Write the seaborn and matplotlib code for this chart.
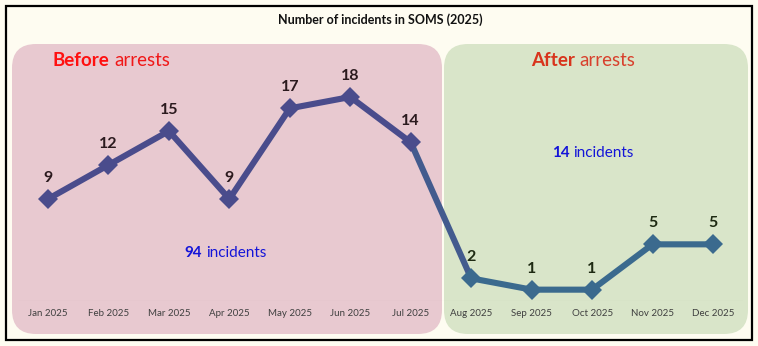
import matplotlib
matplotlib.use("Agg")
import matplotlib.pyplot as plt
import seaborn as sns
import pandas as pd
from matplotlib.patches import FancyBboxPatch, Rectangle

months = ["Jan 2025", "Feb 2025", "Mar 2025", "Apr 2025", "May 2025", "Jun 2025",
          "Jul 2025", "Aug 2025", "Sep 2025", "Oct 2025", "Nov 2025", "Dec 2025"]
incidents = [9, 12, 15, 9, 17, 18, 14, 2, 1, 1, 5, 5]
before_total = 94
after_total = 14
title = "Number of incidents in SOMS (2025)"

sns.set_theme(style="white")
plt.rcParams["font.family"] = ["Lato", "DejaVu Sans"]

W, H = 758, 346
fig = plt.figure(figsize=(W / 100, H / 100), dpi=100)
fig.patch.set_facecolor("#FEFCF1")

# background layer in pixel coordinates
bg = fig.add_axes([0, 0, 1, 1])
bg.set_xlim(0, W)
bg.set_ylim(H, 0)
bg.axis("off")
bg.add_patch(Rectangle((6, 6), 746, 334, fill=False, ec="black", lw=1.6))
bg.add_patch(FancyBboxPatch((12 + 24, 44 + 24), 430 - 48, 290 - 48,
                            boxstyle="round,pad=24", fc="#E8C9D0", ec="none"))
bg.add_patch(FancyBboxPatch((444 + 24, 44 + 24), 304 - 48, 290 - 48,
                            boxstyle="round,pad=24", fc="#D9E5C9", ec="none"))

# main chart
ax = fig.add_axes([17.8 / W, (H - 301) / H, (743.2 - 17.8) / W, 255 / H])
ax.patch.set_alpha(0)
df = pd.DataFrame({"month": months, "incidents": incidents, "pos": range(len(months))})

before = df.iloc[:7]
bridge = df.iloc[6:8]
after = df.iloc[7:]
sns.lineplot(data=bridge, x="pos", y="incidents", ax=ax, color="#435B8E", lw=4.4)
sns.lineplot(data=before, x="pos", y="incidents", ax=ax, color="#4A4C8C", lw=4.4,
             marker="D", markersize=10.5, markeredgewidth=0)
sns.lineplot(data=after, x="pos", y="incidents", ax=ax, color="#3B6A8E", lw=4.4,
             marker="D", markersize=10.5, markeredgewidth=0)

ax.axhline(0, color=(0, 0, 0, 0.07), lw=0.9)
ax.set_xlim(-0.5, 11.5)
ax.set_ylim(0, 22.5)
ax.set_xticks(range(len(months)))
ax.set_xticklabels(months, fontsize=7, color="#404040")
ax.tick_params(axis="x", length=0, pad=6)
ax.set_yticks([])
ax.set_xlabel("")
ax.set_ylabel("")
for s in ax.spines.values():
    s.set_visible(False)

for i, v in enumerate(incidents):
    col = "#2B1A1E" if i < 7 else "#1E2A12"
    ax.annotate(str(v), (i, v), xytext=(0, 21), textcoords="offset pixels",
                ha="center", va="center", fontsize=11.5, fontweight="bold", color=col)

# texts in pixel coords
bg.text(380, 20, title, ha="center", va="center", fontsize=9, fontweight="bold", color="#111111")
bg.text(53, 60, "Before", ha="left", va="center", fontsize=13.5, fontweight="bold", color="#FF1010")
bg.text(114, 60, "arrests", ha="left", va="center", fontsize=13.5, color="#F01818")
bg.text(531, 60, "After", ha="left", va="center", fontsize=13.5, fontweight="bold", color="#D8341C")
bg.text(579, 60, "arrests", ha="left", va="center", fontsize=13.5, color="#D8402C")
bg.text(552, 153, str(after_total), ha="left", va="center", fontsize=11, fontweight="bold", color="#1414D8")
bg.text(573, 153, "incidents", ha="left", va="center", fontsize=11, color="#1414D8")
bg.text(184, 253, str(before_total), ha="left", va="center", fontsize=11, fontweight="bold", color="#1414D8")
bg.text(206, 253, "incidents", ha="left", va="center", fontsize=11, color="#1414D8")

fig.savefig("out.png", dpi=100, facecolor=fig.get_facecolor())
